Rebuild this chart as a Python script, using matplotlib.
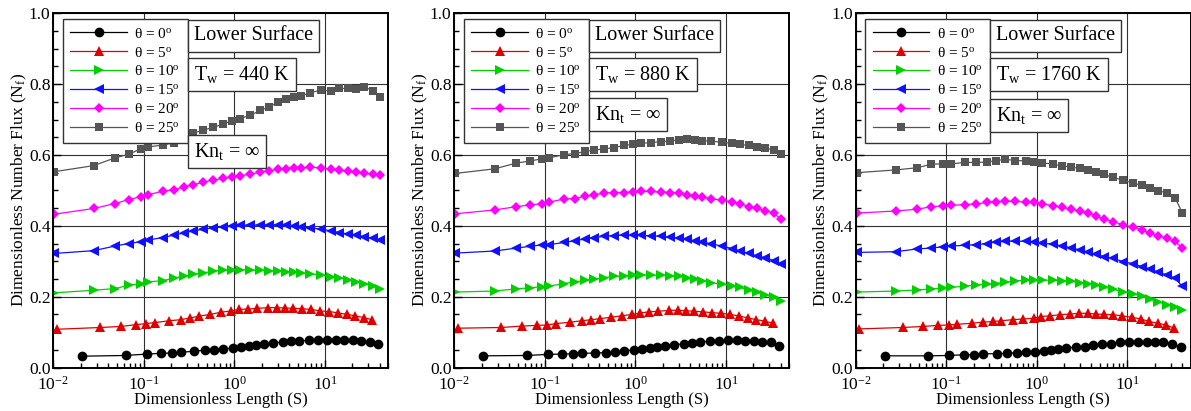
import matplotlib
matplotlib.use("Agg")
import matplotlib.pyplot as plt
from matplotlib.ticker import MultipleLocator, LogLocator, NullFormatter, FormatStrFormatter

plt.rcParams["font.family"] = ["Liberation Serif", "DejaVu Serif"]
plt.rcParams["mathtext.fontset"] = "custom"
plt.rcParams["mathtext.rm"] = "Liberation Serif"
plt.rcParams["mathtext.it"] = "Liberation Serif:italic"

# dimensionless length S at which each incidence angle was sampled
s_theta0 = [0.021, 0.063, 0.108, 0.155, 0.203, 0.254, 0.36, 0.47, 0.6, 0.75, 0.96, 1.19, 1.44, 1.73,
            2.11, 2.69, 3.41, 4.22, 5.21, 6.6, 8.3, 10.4, 13.2, 16.3, 20.2, 24.9, 31.3, 38.7]
s_theta5 = [0.011, 0.033, 0.056, 0.082, 0.106, 0.133, 0.191, 0.254, 0.327, 0.407, 0.54, 0.71, 0.92,
            1.12, 1.40, 1.78, 2.33, 2.93, 3.65, 4.48, 5.57, 7.0, 8.7, 11.2, 14.0, 17.5, 21.6, 26.7, 33.0]
s_theta10_25 = [0.0103, 0.028, 0.048, 0.068, 0.092, 0.112, 0.163, 0.215, 0.28, 0.35, 0.45, 0.58, 0.75,
                0.93, 1.15, 1.5, 1.92, 2.4, 3.0, 3.7, 4.5, 5.5, 6.9, 9.0, 11.6, 14.4, 17.8, 22.0,
                27.2, 33.6, 40.4]

# Tw = 440 K
nf440_t0 = [0.032, 0.034, 0.038, 0.040, 0.041, 0.043, 0.046, 0.049, 0.050, 0.052, 0.055, 0.058, 0.060,
            0.063, 0.066, 0.069, 0.072, 0.074, 0.075, 0.077, 0.079, 0.079, 0.079, 0.078, 0.077, 0.075,
            0.072, 0.066]
nf440_t5 = [0.108, 0.113, 0.116, 0.121, 0.124, 0.127, 0.132, 0.135, 0.140, 0.145, 0.150, 0.156, 0.160,
            0.164, 0.165, 0.167, 0.169, 0.169, 0.168, 0.167, 0.166, 0.164, 0.160, 0.158, 0.154, 0.150,
            0.146, 0.141, 0.135]
nf440_t10 = [0.211, 0.218, 0.223, 0.232, 0.237, 0.242, 0.245, 0.253, 0.258, 0.263, 0.267, 0.272, 0.275,
             0.276, 0.276, 0.275, 0.274, 0.273, 0.272, 0.271, 0.269, 0.266, 0.264, 0.261, 0.256, 0.253,
             0.247, 0.242, 0.237, 0.230, 0.223]
nf440_t15 = [0.322, 0.330, 0.343, 0.350, 0.355, 0.360, 0.367, 0.374, 0.380, 0.386, 0.390, 0.394, 0.397,
             0.399, 0.401, 0.402, 0.402, 0.402, 0.403, 0.401, 0.399, 0.397, 0.394, 0.391, 0.386, 0.381,
             0.377, 0.374, 0.369, 0.365, 0.360]
nf440_t20 = [0.433, 0.449, 0.463, 0.474, 0.482, 0.488, 0.498, 0.502, 0.510, 0.516, 0.523, 0.529, 0.534,
             0.539, 0.541, 0.546, 0.551, 0.555, 0.560, 0.561, 0.562, 0.564, 0.565, 0.564, 0.560, 0.557,
             0.554, 0.551, 0.548, 0.546, 0.543]
nf440_t25 = [0.553, 0.570, 0.592, 0.602, 0.617, 0.623, 0.628, 0.635, 0.648, 0.662, 0.670, 0.678, 0.687,
             0.697, 0.703, 0.712, 0.726, 0.735, 0.749, 0.757, 0.764, 0.767, 0.776, 0.783, 0.781, 0.788,
             0.788, 0.786, 0.793, 0.781, 0.765]

# Tw = 880 K
nf880_t0 = [0.033, 0.034, 0.037, 0.038, 0.039, 0.040, 0.041, 0.042, 0.044, 0.047, 0.050, 0.053, 0.055,
            0.058, 0.061, 0.064, 0.067, 0.070, 0.072, 0.074, 0.075, 0.077, 0.077, 0.076, 0.075, 0.073,
            0.071, 0.062]
nf880_t5 = [0.111, 0.113, 0.117, 0.119, 0.120, 0.124, 0.128, 0.132, 0.135, 0.138, 0.142, 0.146, 0.150,
            0.154, 0.157, 0.159, 0.161, 0.162, 0.160, 0.159, 0.157, 0.155, 0.153, 0.150, 0.145, 0.140,
            0.135, 0.131, 0.125]
nf880_t10 = [0.213, 0.216, 0.222, 0.225, 0.228, 0.230, 0.237, 0.242, 0.246, 0.249, 0.254, 0.257, 0.259,
             0.260, 0.261, 0.261, 0.260, 0.259, 0.257, 0.254, 0.250, 0.245, 0.240, 0.235, 0.231, 0.226,
             0.218, 0.212, 0.205, 0.198, 0.189]
nf880_t15 = [0.323, 0.329, 0.337, 0.342, 0.346, 0.347, 0.353, 0.358, 0.363, 0.366, 0.371, 0.372, 0.374,
             0.374, 0.373, 0.372, 0.370, 0.368, 0.365, 0.362, 0.358, 0.354, 0.349, 0.343, 0.336, 0.329,
             0.322, 0.315, 0.310, 0.302, 0.293]
nf880_t20 = [0.434, 0.445, 0.454, 0.459, 0.462, 0.467, 0.476, 0.477, 0.484, 0.488, 0.492, 0.494, 0.494,
             0.496, 0.497, 0.497, 0.495, 0.494, 0.492, 0.488, 0.485, 0.482, 0.476, 0.473, 0.468, 0.462,
             0.454, 0.449, 0.443, 0.436, 0.419]
nf880_t25 = [0.548, 0.561, 0.577, 0.583, 0.589, 0.592, 0.601, 0.604, 0.610, 0.614, 0.617, 0.621, 0.627,
             0.630, 0.633, 0.635, 0.638, 0.640, 0.643, 0.644, 0.643, 0.640, 0.639, 0.636, 0.633, 0.630,
             0.627, 0.623, 0.620, 0.614, 0.602]

# Tw = 1760 K
nf1760_t0 = [0.033, 0.033, 0.034, 0.036, 0.036, 0.039, 0.039, 0.040, 0.042, 0.043, 0.045, 0.047, 0.050,
             0.052, 0.056, 0.057, 0.059, 0.063, 0.066, 0.067, 0.071, 0.073, 0.073, 0.073, 0.071, 0.071,
             0.067, 0.057]
nf1760_t5 = [0.109, 0.113, 0.116, 0.119, 0.120, 0.122, 0.125, 0.128, 0.130, 0.132, 0.135, 0.137, 0.139,
             0.144, 0.146, 0.149, 0.151, 0.153, 0.153, 0.151, 0.150, 0.149, 0.146, 0.142, 0.137, 0.130,
             0.125, 0.120, 0.111]
nf1760_t10 = [0.213, 0.216, 0.219, 0.222, 0.224, 0.226, 0.230, 0.233, 0.235, 0.237, 0.241, 0.245, 0.246,
              0.247, 0.247, 0.246, 0.245, 0.243, 0.240, 0.236, 0.232, 0.227, 0.221, 0.214, 0.208, 0.201,
              0.193, 0.185, 0.177, 0.170, 0.163]
nf1760_t15 = [0.325, 0.327, 0.335, 0.337, 0.341, 0.343, 0.345, 0.347, 0.350, 0.354, 0.356, 0.357, 0.356,
              0.355, 0.351, 0.348, 0.343, 0.338, 0.332, 0.325, 0.320, 0.313, 0.308, 0.299, 0.293, 0.285,
              0.278, 0.269, 0.262, 0.252, 0.229]
nf1760_t20 = [0.436, 0.442, 0.447, 0.454, 0.456, 0.458, 0.460, 0.462, 0.466, 0.468, 0.469, 0.469, 0.467,
              0.466, 0.462, 0.457, 0.452, 0.447, 0.441, 0.436, 0.427, 0.420, 0.412, 0.403, 0.396, 0.389,
              0.379, 0.372, 0.365, 0.356, 0.337]
nf1760_t25 = [0.550, 0.558, 0.564, 0.574, 0.575, 0.575, 0.579, 0.579, 0.580, 0.584, 0.588, 0.584, 0.584,
              0.581, 0.578, 0.574, 0.569, 0.566, 0.562, 0.557, 0.552, 0.545, 0.537, 0.529, 0.521, 0.514,
              0.508, 0.499, 0.493, 0.479, 0.437]

thetas = [0, 5, 10, 15, 20, 25]
wall_temps = [440, 880, 1760]

COLORS = ["black", "#e00000", "#00d000", "#1010ff", "#ff00ff", "#555555"]
MARKERS = ["o", "^", ">", "<", "D", "s"]
MSIZES = [7, 6.5, 6.5, 6.5, 5.5, 5.5]
S_VALUES = [s_theta0, s_theta5] + [s_theta10_25] * 4

panels = [
    [nf440_t0, nf440_t5, nf440_t10, nf440_t15, nf440_t20, nf440_t25],
    [nf880_t0, nf880_t5, nf880_t10, nf880_t15, nf880_t20, nf880_t25],
    [nf1760_t0, nf1760_t5, nf1760_t10, nf1760_t15, nf1760_t20, nf1760_t25],
]
kn_box_y = [0.611, 0.715, 0.712]

BOX = dict(boxstyle="square,pad=0.3", fc="white", ec="#333333", lw=1.0)

fig = plt.figure(figsize=(11.91, 4.11), dpi=100)
lefts = [53.3 / 1191, 454.3 / 1191, 855.7 / 1191]

for i, (curves, tw) in enumerate(zip(panels, wall_temps)):
    ax = fig.add_axes([lefts[i], 0.1058, 335 / 1191, 0.8618])
    ax.set_axisbelow(True)
    for s, nf, theta, c, m, ms in zip(S_VALUES, curves, thetas, COLORS, MARKERS, MSIZES):
        ax.plot(s, nf, color=c, marker=m, ms=ms, mew=0, lw=0.9,
                label=r"θ = %d$^{\mathrm{o}}$" % theta)

    ax.set_xscale("log")
    ax.set_xlim(0.01, 50)
    ax.set_ylim(0, 1)
    ax.yaxis.set_major_locator(MultipleLocator(0.2))
    ax.yaxis.set_minor_locator(MultipleLocator(0.05))
    ax.yaxis.set_major_formatter(FormatStrFormatter("%.1f"))
    ax.xaxis.set_major_locator(LogLocator(base=10, numticks=10))
    ax.xaxis.set_minor_locator(LogLocator(base=10, subs=range(2, 10), numticks=20))
    ax.xaxis.set_minor_formatter(NullFormatter())
    ax.tick_params(which="both", direction="in", top=False, right=False, labelsize=12.5,
                   width=1.0)
    ax.tick_params(axis="y", pad=2)
    ax.tick_params(axis="x", pad=6)
    ax.tick_params(which="major", length=6)
    ax.tick_params(which="minor", length=3.5)
    for sp in ax.spines.values():
        sp.set_linewidth(1.4)
    ax.grid(True, which="major", color="#303030", lw=0.8)

    ax.set_xlabel("Dimensionless Length (S)", fontsize=12, labelpad=-1)
    ax.set_ylabel(r"Dimensionless Number Flux (N$_{\mathrm{f}}$)", fontsize=12.5, labelpad=0)

    leg = ax.legend(loc="upper left", bbox_to_anchor=(0.028, 0.984), borderaxespad=0,
                    fontsize=11, handlelength=3.7, handletextpad=0.5, labelspacing=0.32,
                    borderpad=0.5, fancybox=False, framealpha=1, edgecolor="#333333")
    leg.get_frame().set_linewidth(1.0)

    ax.text(0.419, 0.936, "Lower Surface", transform=ax.transAxes, ha="left", va="center",
            fontsize=14.5, bbox=BOX, zorder=6)
    ax.text(0.419, 0.826, r"T$_{\mathrm{w}}$ = %d K" % tw, transform=ax.transAxes, ha="left",
            va="center", fontsize=14.5, bbox=BOX, zorder=6)
    ax.text(0.419, kn_box_y[i], r"Kn$_{\mathrm{t}}$ = ∞", transform=ax.transAxes, ha="left",
            va="center", fontsize=14.5, bbox=BOX, zorder=6)

fig.savefig("out.png", dpi=100)
